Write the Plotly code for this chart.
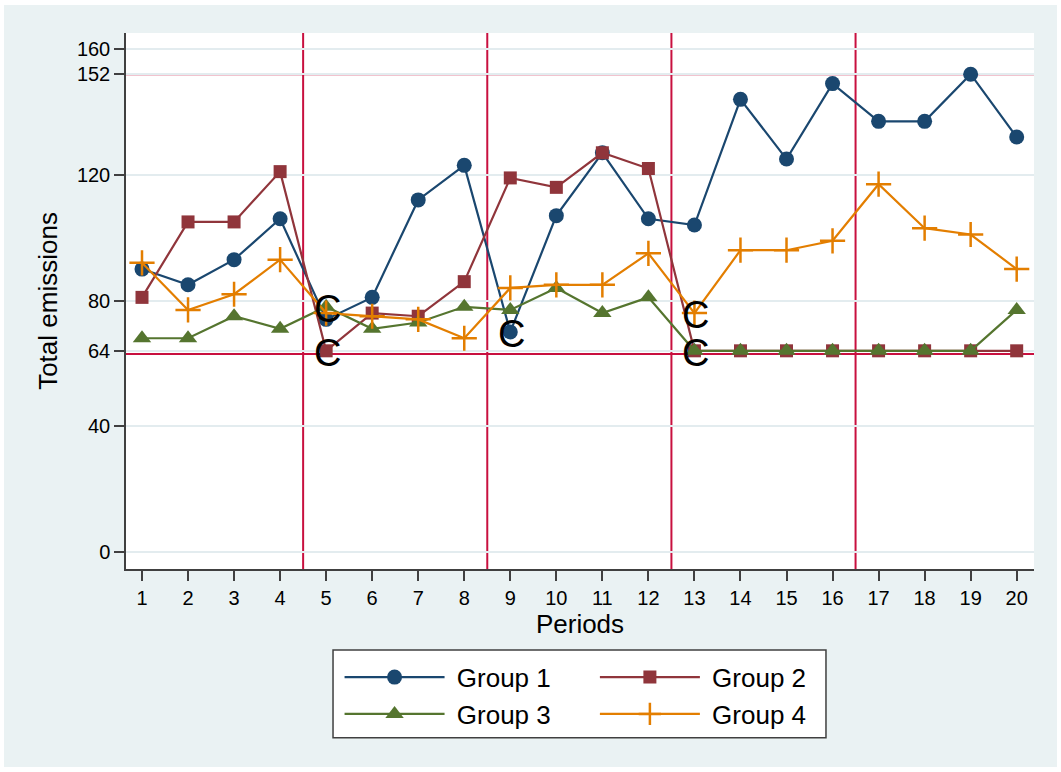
import plotly.graph_objects as go

# --- Data -------------------------------------------------------------------
PERIODS = list(range(1, 21))

GROUP_1 = [90, 85, 93, 106, 74, 81, 112, 123, 70, 107,
           127, 106, 104, 144, 125, 149, 137, 137, 152, 132]
GROUP_2 = [81, 105, 105, 121, 64, 76, 75, 86, 119, 116,
           127, 122, 64, 64, 64, 64, 64, 64, 64, 64]
GROUP_3 = [68, 68, 75, 71, 78, 71, 73, 78, 77, 84,
           76, 81, 64, 64, 64, 64, 64, 64, 64, 77]
GROUP_4 = [92, 77, 82, 93, 76, 75, 74, 68, 84, 85,
           85, 95, 76, 96, 96, 99, 117, 103, 101, 90]

SERIES = {"Group 1": GROUP_1, "Group 2": GROUP_2,
          "Group 3": GROUP_3, "Group 4": GROUP_4}

# points flagged with a "C" label: (series, period)
C_POINTS = [("Group 3", 5), ("Group 2", 5), ("Group 1", 9),
            ("Group 4", 13), ("Group 2", 13)]

H_LINES = [152, 63]
V_LINES = [4.5, 8.5, 12.5, 16.5]
Y_TICKS = [0, 40, 64, 80, 120, 152, 160]

# --- Style ------------------------------------------------------------------
FONT = "Liberation Sans, Arial, sans-serif"
BG = "#EAF2F3"
RED = "#C8103F"
AXIS = "#404040"
STYLE = {
    "Group 1": dict(color="#1A476F", symbol="circle", size=15, legend="legend"),
    "Group 2": dict(color="#90353B", symbol="square", size=13, legend="legend2"),
    "Group 3": dict(color="#55752F", symbol="triangle-up", size=16, legend="legend"),
    "Group 4": dict(color="#E37E00", symbol="cross-thin", size=18, legend="legend2"),
}

fig = go.Figure()

for name, values in SERIES.items():
    st = STYLE[name]
    fig.add_trace(go.Scatter(
        x=PERIODS, y=values, name="\u00a0" + name, mode="lines+markers",
        line=dict(color=st["color"], width=2.2),
        marker=dict(symbol=st["symbol"], size=st["size"], color=st["color"],
                    line=dict(color=st["color"], width=2.5 if st["symbol"] == "cross-thin" else 0)),
        legend=st["legend"], legendgroup=name,
    ))

# "C" marker labels, drawn on top of the markers
annotations = [
    dict(x=p, y=SERIES[s][p - 1], xref="x", yref="y", text="C", showarrow=False,
         font=dict(family=FONT, size=38, color="black"), yshift=-2, xshift=1)
    for s, p in C_POINTS
]

shapes = [
    # outer background panel with thin white border
    dict(type="rect", xref="paper", yref="paper", x0=-0.1344, x1=1.0253,
         y0=-0.3694, y1=1.0522, fillcolor=BG, line=dict(width=0), layer="below"),
    # plot region
    dict(type="rect", xref="paper", yref="paper", x0=0, x1=1, y0=0, y1=1,
         fillcolor="white", line=dict(width=0), layer="below"),
    # legend box
    dict(type="rect", xref="paper", yref="paper", x0=0.2280, x1=0.7709,
         y0=-0.3148, y1=-0.1511, fillcolor="white",
         line=dict(color=AXIS, width=1.5), layer="below"),
]
for y in H_LINES:
    shapes.append(dict(type="line", xref="paper", yref="y", x0=0, x1=1, y0=y, y1=y,
                       line=dict(color=RED, width=2), layer="between"))
for x in V_LINES:
    shapes.append(dict(type="line", xref="x", yref="paper", x0=x, x1=x, y0=0, y1=1,
                       line=dict(color=RED, width=2), layer="between"))

legend_common = dict(
    orientation="v", yanchor="top", xanchor="left",
    bgcolor="rgba(0,0,0,0)", borderwidth=0,
    font=dict(family=FONT, size=26, color="black"),
    itemwidth=100, tracegroupgap=0,
)

fig.update_layout(
    width=1061, height=772,
    paper_bgcolor="white", plot_bgcolor="white",
    margin=dict(l=126, r=27, t=33, b=203),
    font=dict(family=FONT, size=20, color="black"),
    shapes=shapes,
    annotations=annotations,
    showlegend=True,
    legend=dict(x=0.2352, y=-0.158, **legend_common),
    legend2=dict(x=0.5164, y=-0.158, **legend_common),
    xaxis=dict(
        range=[0.6525, 20.376], tickvals=PERIODS, ticktext=[str(p) for p in PERIODS],
        showgrid=False, zeroline=False, showline=True, linecolor=AXIS, linewidth=1.5,
        ticks="outside", ticklen=10, tickwidth=1.5, tickcolor=AXIS,
        tickfont=dict(family=FONT, size=20),
        title=dict(text="Periods", font=dict(family=FONT, size=26), standoff=2),
    ),
    yaxis=dict(
        range=[-5.41, 165.1], tickvals=Y_TICKS, ticktext=[str(v) for v in Y_TICKS],
        showgrid=True, gridcolor="#E3ECEF", gridwidth=2,
        zeroline=False, showline=True, linecolor=AXIS, linewidth=1.5,
        ticks="outside", ticklen=10, tickwidth=1.5, tickcolor=AXIS,
        tickfont=dict(family=FONT, size=20),
        title=dict(text="Total emissions", font=dict(family=FONT, size=26), standoff=12),
    ),
)

fig.write_html("out.html", config={"displayModeBar": False},
               post_script="document.body.style.margin = '0';")
